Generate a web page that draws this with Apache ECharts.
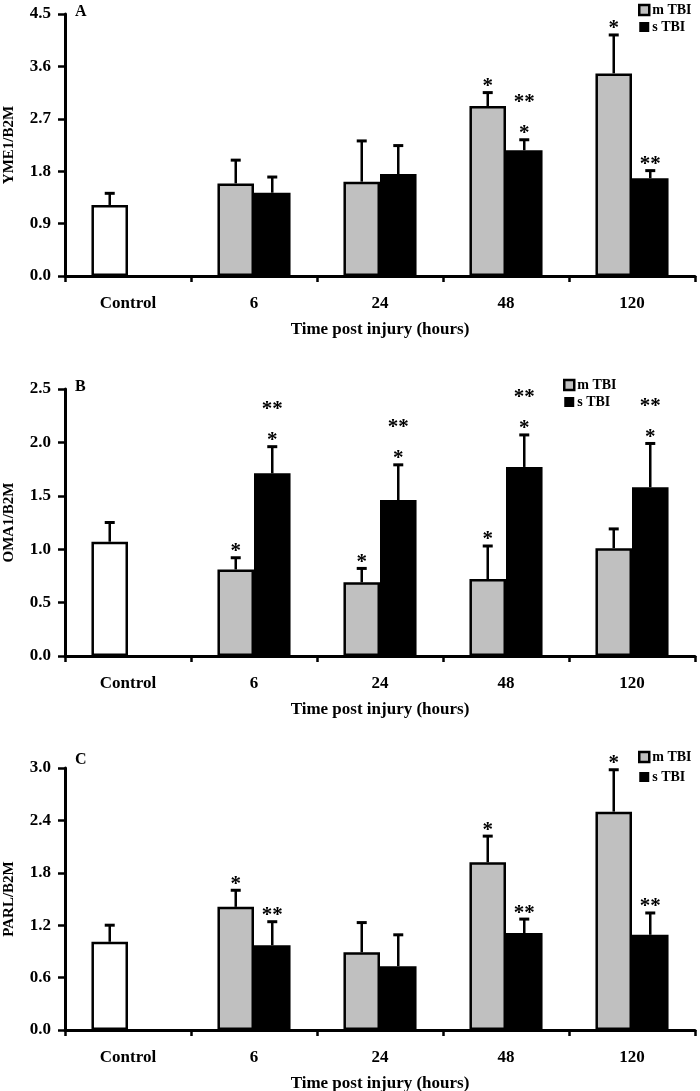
<!DOCTYPE html>
<html>
<head>
<meta charset="utf-8">
<script src="https://cdn.jsdelivr.net/npm/echarts@6/dist/echarts.min.js"></script>
<style>html,body{margin:0;padding:0;background:#fff}#c{width:700px;height:1091px}</style>
</head>
<body>
<div id="c"></div>
<script>
// ---- data ----
const categories = ['Control', '6', '24', '48', '120'];
const seriesNames = ['m TBI', 's TBI'];

// Panel A: YME1/B2M (index 0 = Control)
const aMild = [1.22, 1.59, 1.62, 2.92, 3.48];
const aMildSD = [0.20, 0.40, 0.70, 0.23, 0.66];
const aSevere = [null, 1.43, 1.75, 2.16, 1.68];
const aSevereSD = [null, 0.27, 0.49, 0.18, 0.13];
const aMildStars = [[], [], [], ['*'], ['*']];
const aSevereStars = [[], [], [], ['*', '**'], ['**']];
const aTicks = { max: 4.5, step: 0.9 };

// Panel B: OMA1/B2M
const bMild = [1.07, 0.81, 0.69, 0.72, 1.01];
const bMildSD = [0.18, 0.11, 0.13, 0.31, 0.18];
const bSevere = [null, 1.71, 1.46, 1.77, 1.58];
const bSevereSD = [null, 0.25, 0.33, 0.30, 0.41];
const bMildStars = [[], ['*'], ['*'], ['*'], []];
const bSevereStars = [[], ['*', '**'], ['*', '**'], ['*', '**'], ['*', '**']];
const bTicks = { max: 2.5, step: 0.5 };

// Panel C: PARL/B2M
const cMild = [1.01, 1.41, 0.89, 1.92, 2.50];
const cMildSD = [0.19, 0.19, 0.34, 0.30, 0.48];
const cSevere = [null, 0.97, 0.73, 1.11, 1.09];
const cSevereSD = [null, 0.27, 0.36, 0.16, 0.25];
const cMildStars = [[], ['*'], [], ['*'], ['*']];
const cSevereStars = [[], ['**'], [], ['**'], ['**']];
const cTicks = { max: 3.0, step: 0.6 };

const panelLetters = ['A', 'B', 'C'];
const yNames = ['YME1/B2M', 'OMA1/B2M', 'PARL/B2M'];
const xName = 'Time post injury (hours)';

// ---- styling / layout ----
const FONT = '"Liberation Serif", "Times New Roman", serif';
const GREY = '#c0c0c0';
const grids = [
  { left: 65, right: 5, top: 14, height: 262, outerBoundsMode: 'none', containLabel: false },
  { left: 65, right: 5, top: 389, height: 267, outerBoundsMode: 'none', containLabel: false },
  { left: 65, right: 5, top: 768, height: 262, outerBoundsMode: 'none', containLabel: false }
];
const legendPos = [
  { left: 638, top: 3, gap: 3 },
  { left: 563, top: 378, gap: 3 },
  { left: 638, top: 750, gap: 6 }
];
const letterPos = [
  { left: 75, top: 4 },
  { left: 75, top: 379 },
  { left: 75, top: 752 }
];

const panels = [
  { mild: aMild, mildSD: aMildSD, severe: aSevere, severeSD: aSevereSD, mStars: aMildStars, sStars: aSevereStars, ticks: aTicks },
  { mild: bMild, mildSD: bMildSD, severe: bSevere, severeSD: bSevereSD, mStars: bMildStars, sStars: bSevereStars, ticks: bTicks },
  { mild: cMild, mildSD: cMildSD, severe: cSevere, severeSD: cSevereSD, mStars: cMildStars, sStars: cSevereStars, ticks: cTicks }
];

const BAR_FRAC = 0.29;

function errorSeries(pi, vals, sds, stars, side) {
  const data = [];
  vals.forEach((v, i) => { if (v != null) data.push([i, v, sds[i], i]); });
  return {
    type: 'custom',
    xAxisIndex: pi, yAxisIndex: pi,
    z: 5,
    silent: true,
    data: data,
    renderItem: function (params, api) {
      const ci = api.value(0), m = api.value(1), sd = api.value(2), idx = api.value(3);
      const base = api.coord([ci, m]);
      const top = api.coord([ci, m + sd]);
      const band = api.size([1, 0])[0];
      const cx = base[0] + side * band * BAR_FRAC / 2;
      const children = [
        { type: 'line', shape: { x1: cx, y1: base[1], x2: cx, y2: top[1] }, style: { stroke: '#000', lineWidth: 2.5 } },
        { type: 'line', shape: { x1: cx - 5, y1: top[1], x2: cx + 5, y2: top[1] }, style: { stroke: '#000', lineWidth: 3 } }
      ];
      (stars[idx] || []).forEach((s, k) => {
        children.push({
          type: 'text',
          style: {
            x: cx, y: top[1] - 6 - 31 * k, text: s,
            align: 'center', verticalAlign: 'middle',
            font: 'bold 21px ' + FONT, fill: '#000'
          }
        });
      });
      return { type: 'group', children: children };
    }
  };
}

const option = {
  animation: false,
  backgroundColor: '#fff',
  title: panelLetters.map((t, i) => ({
    text: t, left: letterPos[i].left, top: letterPos[i].top, padding: 0,
    textStyle: { fontFamily: FONT, fontWeight: 'bold', fontSize: 16, color: '#000' }
  })),
  legend: legendPos.map(p => ({
    left: p.left, top: p.top, padding: 0, orient: 'vertical', itemGap: p.gap,
    itemWidth: 10, itemHeight: 10, icon: 'rect',
    textStyle: { fontFamily: FONT, fontWeight: 'bold', fontSize: 14, color: '#000', padding: [0, 0, 0, -2] },
    data: [
      { name: seriesNames[0], itemStyle: { color: GREY, borderColor: '#000', borderWidth: 2.5 } },
      { name: seriesNames[1], itemStyle: { color: '#000', borderWidth: 0 } }
    ]
  })),
  grid: grids,
  xAxis: grids.map((g, i) => ({
    type: 'category', gridIndex: i, data: categories,
    axisLine: { lineStyle: { color: '#000', width: 3 } },
    axisTick: { show: true, length: 6, lineStyle: { color: '#000', width: 2.5 } },
    axisLabel: { fontFamily: FONT, fontWeight: 'bold', fontSize: 17, color: '#000', margin: 19 },
    name: xName, nameLocation: 'middle', nameGap: 45,
    nameTextStyle: { fontFamily: FONT, fontWeight: 'bold', fontSize: 17, color: '#000' }
  })),
  yAxis: panels.map((p, i) => ({
    type: 'value', gridIndex: i, min: 0, max: p.ticks.max, interval: p.ticks.step,
    axisLine: { show: true, lineStyle: { color: '#000', width: 3 } },
    axisTick: { show: true, length: 7, lineStyle: { color: '#000', width: 2.5 } },
    splitLine: { show: false },
    axisLabel: { fontFamily: FONT, fontWeight: 'bold', fontSize: 17, color: '#000', margin: 14,
      formatter: v => v.toFixed(1) },
    name: yNames[i], nameLocation: 'middle', nameGap: 48,
    nameTextStyle: { fontFamily: FONT, fontWeight: 'bold', fontSize: 15, color: '#000' }
  })),
  series: []
};

panels.forEach((p, i) => {
  option.series.push({
    name: seriesNames[0], type: 'bar', xAxisIndex: i, yAxisIndex: i,
    barWidth: (BAR_FRAC * 100) + '%', barGap: '0%',
    itemStyle: { color: GREY, borderColor: '#000', borderWidth: 2.5 },
    data: p.mild.map((v, k) => k === 0 ? { value: v, itemStyle: { color: '#fff' } } : v)
  });
  option.series.push({
    name: seriesNames[1], type: 'bar', xAxisIndex: i, yAxisIndex: i,
    barWidth: (BAR_FRAC * 100) + '%', barGap: '0%',
    itemStyle: { color: '#000', borderColor: '#000', borderWidth: 2.5 },
    data: p.severe.map(v => v == null ? '-' : v)
  });
  option.series.push(errorSeries(i, p.mild, p.mildSD, p.mStars, -1));
  option.series.push(errorSeries(i, p.severe, p.severeSD, p.sStars, 1));
});

const chart = echarts.init(document.getElementById('c'), null, { renderer: 'canvas' });
chart.setOption(option);
</script>
</body>
</html>
